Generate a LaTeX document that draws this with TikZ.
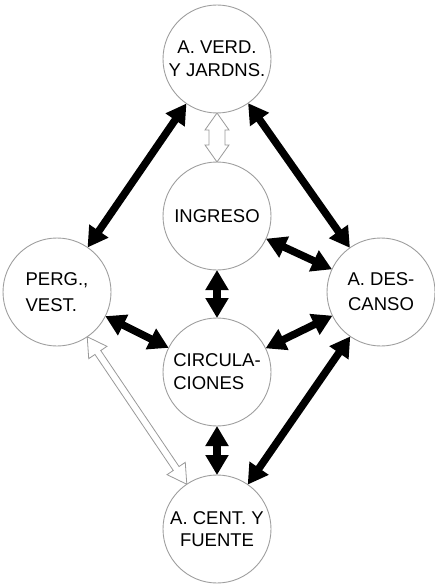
\documentclass[tikz,border=0pt]{standalone}
\usepackage{fontspec}
\setmainfont{Liberation Sans}
\usetikzlibrary{arrows.meta,calc}
\newcommand\hollowarrow[5]{% from, to, head length, head half width, shaft half width
  \coordinate (ha) at ($(#1)!54pt!(#2)$);
  \coordinate (hb) at ($(#2)!54pt!(#1)$);
  \coordinate (h1) at ($(ha)!#3!(hb)$);
  \coordinate (h2) at ($(hb)!#3!(ha)$);
  \draw[openarrow] (ha) -- ($(h1)!#4!90:(hb)$) -- ($(h1)!#5!90:(hb)$)
    -- ($(h2)!#5!-90:(ha)$) -- ($(h2)!#4!-90:(ha)$) -- (hb)
    -- ($(h2)!#4!90:(ha)$) -- ($(h2)!#5!90:(ha)$)
    -- ($(h1)!#5!-90:(hb)$) -- ($(h1)!#4!-90:(hb)$) -- cycle;
}
\begin{document}
\begin{tikzpicture}[x=1pt,y=-1pt,
  area/.style={circle,draw=black!38,line width=0.9pt,minimum size=108pt,
    inner sep=0pt,outer sep=0pt,font=\fontsize{18.5}{23}\selectfont},
  link/.style={line width=7.5pt,
    {Triangle[length=20pt,width=22pt]}-{Triangle[length=20pt,width=22pt]}},
  openarrow/.style={draw=black!40,line width=0.8pt,fill=white,line join=miter}]
\useasboundingbox (0,0) rectangle (435,588);
\node[area,align=center] (verde) at (217,59) {A. VERD.\\Y JARDNS.};
\node[area] (ingreso) at (217,216) {INGRESO};
\node[area,align=left,font=\fontsize{18.5}{26}\selectfont] (perg) at (57,292) {PERG.,\\VEST.};
\node[area,align=center,font=\fontsize{18.5}{25}\selectfont] (descanso) at (381,292) {A. DES-\\CANSO};
\node[area,align=left] (circ) at (217,372) {CIRCULA-\\CIONES};
\node[area,align=center,font=\fontsize{18.5}{22}\selectfont] (centro) at (217,529) {A. CENT. Y\\FUENTE};

\draw[link] (verde) -- (perg);
\draw[link] (verde) -- (descanso);
\draw[link] (ingreso) -- (descanso);
\draw[link] (ingreso) -- (circ);
\draw[link] (perg) -- (circ);
\draw[link] (descanso) -- (circ);
\draw[link] (circ) -- (centro);
\draw[link] (descanso) -- (centro);

\hollowarrow{verde}{ingreso}{17pt}{12pt}{8pt}
\hollowarrow{perg}{centro}{19pt}{11pt}{3.5pt}
\end{tikzpicture}
\end{document}
